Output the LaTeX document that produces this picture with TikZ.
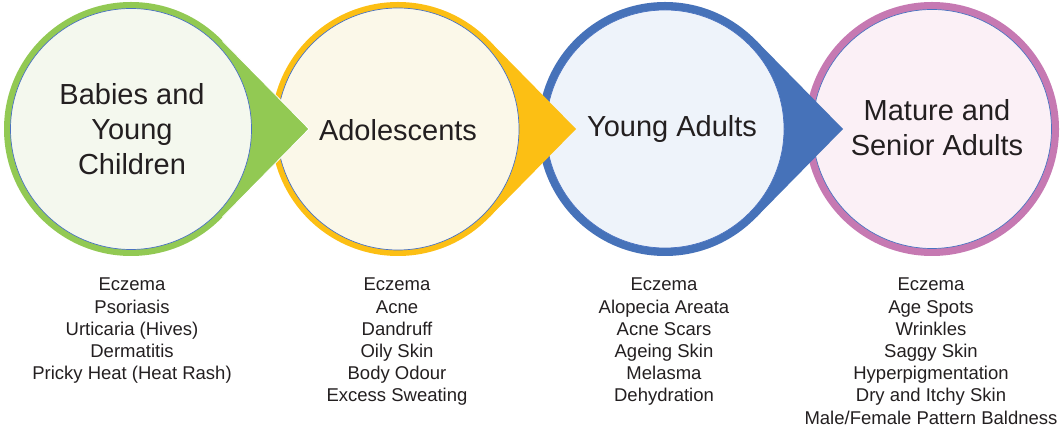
\documentclass[tikz,border=0pt]{standalone}
\usepackage{fontspec}
\setmainfont{Liberation Sans}
\definecolor{cgreen}{HTML}{92C953}
\definecolor{cgreenin}{HTML}{F4F8EE}
\definecolor{cyellow}{HTML}{FCBF14}
\definecolor{cyellowin}{HTML}{FBF8E9}
\definecolor{cblue}{HTML}{4672B9}
\definecolor{cbluein}{HTML}{EEF3FA}
\definecolor{cpurple}{HTML}{C679B2}
\definecolor{cpurplein}{HTML}{FBF0F6}
\definecolor{rimline}{HTML}{4A72C0}
\definecolor{txt}{HTML}{231F20}
\begin{document}
\begin{tikzpicture}[x=1pt,y=1pt,
  outerc/.style={circle, minimum size=254pt, inner sep=0pt, outer sep=0pt, fill=#1},
  innerc/.style={circle, minimum size=241pt, inner sep=0pt, outer sep=0pt, fill=#1, draw=rimline, line width=0.7pt},
  title/.style={align=center, text=txt, font=\fontsize{29}{35}\selectfont},
  listtxt/.style={align=center, text=txt, anchor=north, inner sep=0pt, font=\fontsize{18.5}{22.2}\selectfont}]
\useasboundingbox (0,0) rectangle (1060,428);
% outer rings
\node[outerc=cgreen] (o1) at (131,299) {};
\node[outerc=cyellow] (o2) at (398,299) {};
\node[outerc=cblue] (o3) at (665,299) {};
\node[outerc=cpurple] (o4) at (932,299) {};
% pointer tips
\coordinate (t1) at (309,299);
\coordinate (t2) at (576,299);
\coordinate (t3) at (843,299);
% inner circle 4
\node[innerc=cpurplein, minimum size=239pt] (i4) at (932,299) {};
% pointer 3 and inner 3
\fill[cblue] (o3.-44.48) -- (t3) -- (o3.44.48) -- cycle;
\node[innerc=cbluein, minimum size=238pt] (i3) at (665,299) {};
% pointer 2 and inner 2
\fill[cyellow] (o2.-44.48) -- (t2) -- (o2.44.48) -- cycle;
\node[innerc=cyellowin, minimum size=242pt] (i2) at (398,299) {};
% pointer 1 and inner 1
\fill[cgreen] (o1.-44.48) -- (t1) -- (o1.44.48) -- cycle;
\draw[white, line width=0.8pt] (o1.-44.48) -- (t1) -- (o1.44.48);
\node[innerc=cgreenin] (i1) at (131,299) {};
% titles
\node[title] (h1) at (132,299) {Babies and\\Young\\Children};
\node[title] (h2) at (398,298) {Adolescents};
\node[title] (h3) at (672,299) {Young Adults};
\node[title] (h4) at (937,300) {Mature and\\Senior Adults};
% lists
\node[listtxt] (l1) at (132,150) {Eczema\\Psoriasis\\Urticaria (Hives)\\Dermatitis\\Pricky Heat (Heat Rash)};
\node[listtxt] (l2) at (397,150) {Eczema\\Acne\\Dandruff\\Oily Skin\\Body Odour\\Excess Sweating};
\node[listtxt] (l3) at (664,150) {Eczema\\Alopecia Areata\\Acne Scars\\Ageing Skin\\Melasma\\Dehydration};
\node[listtxt] (l4) at (931,150) {Eczema\\Age Spots\\Wrinkles\\Saggy Skin\\Hyperpigmentation\\Dry and Itchy Skin\\Male/Female Pattern Baldness};
\end{tikzpicture}
\end{document}
